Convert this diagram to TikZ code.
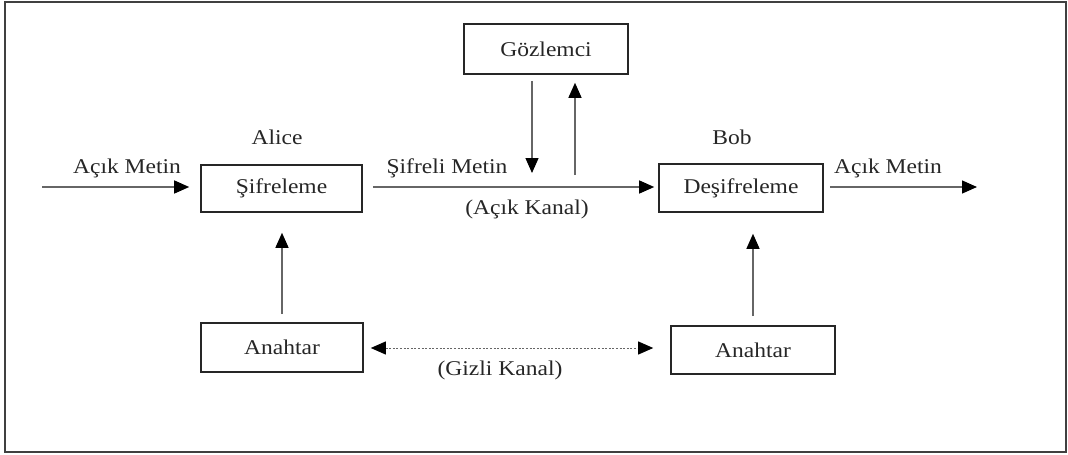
\documentclass[tikz,border=0pt]{standalone}
\usepackage{fontspec}
\setmainfont{Liberation Serif}[FakeStretch=1.12]
\usetikzlibrary{arrows.meta,calc}
\begin{document}
\begin{tikzpicture}[x=1pt,y=-1pt,
  txt/.style={font=\fontsize{21}{24}\selectfont, text=black!85, inner sep=0pt},
  blok/.style={draw=black!85, line width=1.6pt, minimum width=#1, inner sep=0pt,
    font=\fontsize{21}{24}\selectfont, text=black!85},
  uc/.tip={Triangle[length=15pt,width=13pt,color=black]},
  ok/.style={draw=black!60, line width=1.3pt, -uc},
  gizli/.style={draw=black!60, line width=0.9pt, dash pattern=on 2pt off 1.6pt, uc-uc}
]
\useasboundingbox (0,0) rectangle (1068,455);
% outer frame
\draw[black!75, line width=1.8pt] (5,2) rectangle (1066,452);

% boxes
\node[blok=161pt, minimum height=47pt] (sif) at (281.5,188.5) {Şifreleme};
\node[blok=164pt, minimum height=50pt] (goz) at (546,49) {Gözlemci};
\node[blok=164pt, minimum height=48pt] (desif) at (741,188) {Deşifreleme};
\node[blok=162pt, minimum height=49pt] (anl) at (282,347.5) {Anahtar};
\node[blok=164pt, minimum height=48pt] (anr) at (753,350) {Anahtar};

% free ends
\coordinate (giris) at (42,187);
\coordinate (cikis) at (977,187);
\coordinate (asagi) at (532,173);
\coordinate (yukari) at (575,175);

% connectors
\draw[ok, shorten >=11pt] (giris) -- (giris -| sif.west);
\draw[ok, shorten <=6pt] (desif.east |- cikis) -- (cikis);
\draw[ok, shorten <=10pt, shorten >=4pt] (sif.east |- 0,187) -- (desif.west |- 0,187);
\draw[ok, shorten <=6pt] (goz.south -| asagi) -- (asagi);
\draw[ok, shorten >=8pt] (yukari) -- (goz.south -| yukari);
\draw[ok, shorten <=8pt, shorten >=20pt] (anl.north) -- (sif.south -| anl.north);
\draw[ok, shorten <=9pt, shorten >=21pt] (anr.north) -- (desif.south -| anr.north);
\draw[gizli, shorten <=7pt, shorten >=17pt] (anl.east |- 0,348) -- (anr.west |- 0,348);

% labels
\node[txt] (acikg) at (127,168) {Açık Metin};
\node[txt] (alice) at (277,137) {Alice};
\node[txt] (sifm) at (447,168) {Şifreli Metin};
\node[txt] (acikk) at (527,209) {(Açık Kanal)};
\node[txt] (bob) at (732,137) {Bob};
\node[txt] (acikc) at (888,168) {Açık Metin};
\node[txt] (gizk) at (500,370) {(Gizli Kanal)};
\end{tikzpicture}
\end{document}
